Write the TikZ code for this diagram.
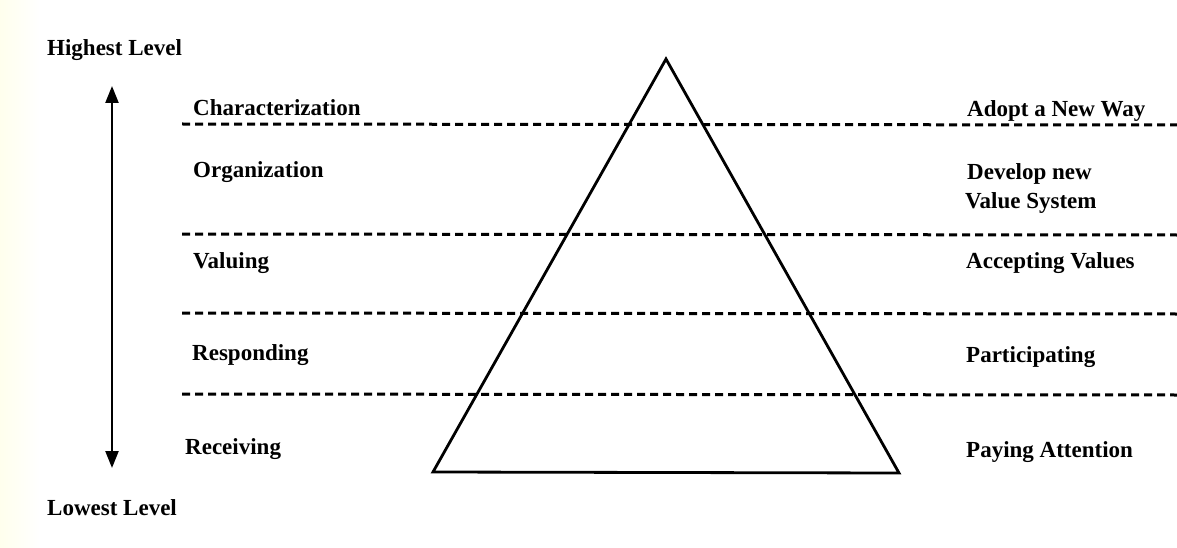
\documentclass[tikz,border=0pt]{standalone}
\usepackage{fontspec}
\setmainfont{Liberation Serif}
\usetikzlibrary{arrows.meta}
\begin{document}
\begin{tikzpicture}[x=1pt,y=-1pt,
  lbl/.style={anchor=base west,inner sep=0pt,font=\bfseries\fontsize{23}{28}\selectfont},
  level/.style={line width=3pt,dash pattern=on 8pt off 5pt},
  pyr/.style={line width=2.8pt,line join=miter}]
\useasboundingbox (0,0) rectangle (1177,548);
\fill[white] (0,0) rectangle (1177,548);
\shade[left color=yellow!7!white,right color=white] (0,0) rectangle (40,548);
% pyramid
\coordinate (apex) at (666,59);
\coordinate (bl) at (433,472);
\coordinate (br) at (899,473);
\draw[pyr] (apex) -- (bl) -- (br) -- cycle;
% level lines
\foreach \y/\n in {124/l1,234/l2,313/l3,394/l4}{
  \coordinate (\n a) at (182,\y);
  \coordinate (\n b) at (1177,\y+1);
  \draw[level] (\n a) -- (\n b);
}
% axis arrow
\coordinate (atop) at (112,86);
\coordinate (abot) at (112,468);
\draw[line width=2.4pt,{Triangle[length=17pt,width=13pt]}-{Triangle[length=17pt,width=13pt]}] (atop) -- (abot);
% labels
\node[lbl] (hi) at (47,56) {Highest Level};
\node[lbl] (lo) at (47,515) {Lowest Level};
\node[lbl] (c) at (193,116) {Characterization};
\node[lbl] (o) at (193,178) {Organization};
\node[lbl] (v) at (193,268) {Valuing};
\node[lbl] (r) at (192,360) {Responding};
\node[lbl] (re) at (185,454) {Receiving};
\node[lbl] (ra) at (967,117) {Adopt a New Way};
\node[lbl] (rb) at (967,180) {Develop new};
\node[lbl] (rb2) at (965,208) {Value System};
\node[lbl] (rc) at (966,268) {Accepting Values};
\node[lbl] (rd) at (966,362) {Participating};
\node[lbl] (re2) at (966,457) {Paying Attention};
\end{tikzpicture}
\end{document}
